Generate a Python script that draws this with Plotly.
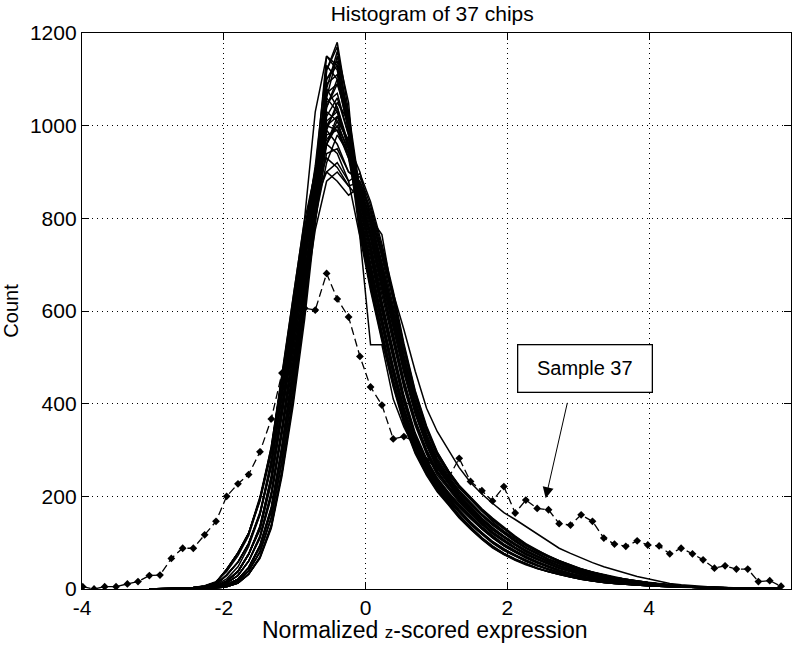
import plotly.graph_objects as go

# Histogram bin centres shared by all chips (normalized z-score)
bin_centers = [-3.99, -3.83, -3.68, -3.52, -3.36, -3.21, -3.05, -2.90, -2.74, -2.58,
               -2.43, -2.27, -2.11, -1.96, -1.80, -1.65, -1.49, -1.33, -1.18, -1.02,
               -0.86, -0.71, -0.55, -0.40, -0.24, -0.08, 0.07, 0.23, 0.39, 0.54,
               0.70, 0.86, 1.01, 1.17, 1.32, 1.48, 1.64, 1.79, 1.95, 2.11,
               2.26, 2.42, 2.58, 2.73, 2.89, 3.04, 3.20, 3.36, 3.51, 3.67,
               3.83, 3.98, 4.14, 4.29, 4.45, 4.61, 4.76, 4.92, 5.07, 5.23,
               5.39, 5.54, 5.70, 5.86]

# Chips 1-36 are counted from bin 6 (z = -3.05) onwards
chip_x = bin_centers[6:]

chip_01 = [0, 0, 0, 0, 1, 2, 4, 9, 21, 46, 92, 172, 302, 470, 650, 845, 1120, 1180, 1030, 815,
           730, 610, 505, 410, 330, 275, 235, 205, 180, 155, 132, 113, 95, 81, 69, 58, 48, 40, 33, 27,
           22, 18, 15, 13, 11, 9, 7, 6, 5, 4, 3, 3, 2, 2, 1, 1, 1, 0]
chip_02 = [0, 0, 0, 1, 1, 3, 6, 17, 38, 75, 132, 236, 382, 548, 716, 896, 1150, 1130, 990, 770,
           650, 540, 440, 360, 295, 248, 212, 183, 155, 130, 108, 90, 75, 63, 53, 44, 37, 31, 26, 21,
           17, 14, 12, 10, 8, 7, 6, 5, 4, 3, 3, 2, 2, 1, 1, 1, 0, 0]
chip_03 = [0, 1, 1, 2, 3, 6, 14, 42, 78, 120, 195, 300, 460, 620, 800, 1030, 1150, 1120, 1000, 792,
           690, 575, 472, 385, 312, 262, 224, 194, 168, 142, 120, 101, 85, 72, 61, 51, 42, 35, 29, 24,
           20, 16, 13, 11, 10, 8, 6, 5, 4, 3, 3, 2, 2, 1, 1, 1, 0, 0]
chip_04 = [0, 0, 0, 0, 0, 1, 2, 5, 13, 32, 68, 135, 250, 410, 600, 815, 1080, 1160, 1050, 778,
           657, 546, 445, 364, 298, 250, 214, 185, 157, 131, 109, 91, 76, 64, 54, 45, 37, 31, 26, 21,
           17, 14, 12, 10, 8, 7, 6, 5, 4, 3, 2, 2, 2, 1, 1, 1, 0, 0]
chip_05 = [0, 0, 0, 1, 1, 3, 6, 17, 38, 75, 136, 243, 393, 564, 737, 880, 1090, 1110, 1000, 832,
           755, 645, 540, 442, 358, 295, 250, 218, 190, 165, 141, 121, 104, 88, 75, 64, 54, 45, 38, 31,
           26, 21, 17, 14, 12, 10, 8, 6, 5, 4, 3, 3, 2, 2, 1, 1, 1, 0]
chip_06 = [0, 0, 0, 0, 1, 2, 4, 9, 21, 46, 95, 177, 310, 483, 668, 835, 1060, 1150, 1020, 850,
           780, 680, 575, 475, 385, 315, 265, 230, 200, 175, 150, 130, 112, 96, 82, 70, 59, 50, 42, 35,
           29, 24, 20, 17, 14, 12, 10, 8, 6, 5, 4, 3, 3, 2, 2, 1, 1, 1]
chip_07 = [0, 1, 1, 2, 3, 6, 14, 42, 78, 120, 195, 300, 460, 620, 780, 905, 1040, 1100, 990, 822,
           737, 616, 510, 414, 333, 278, 237, 207, 182, 157, 133, 114, 96, 82, 70, 59, 49, 40, 33, 27,
           22, 18, 15, 13, 11, 9, 7, 6, 5, 4, 3, 3, 2, 2, 1, 1, 1, 0]
chip_08 = [0, 0, 1, 1, 2, 4, 10, 30, 58, 98, 163, 268, 421, 584, 748, 883, 1050, 1070, 980, 865,
           800, 705, 602, 498, 402, 330, 278, 240, 210, 185, 160, 140, 121, 104, 89, 76, 64, 55, 46, 39,
           32, 27, 22, 19, 16, 13, 10, 8, 6, 5, 4, 3, 3, 2, 2, 1, 1, 1]
chip_09 = [0, 0, 0, 0, 1, 2, 4, 9, 21, 46, 92, 172, 302, 470, 650, 820, 1020, 1060, 980, 785,
           683, 569, 467, 381, 309, 259, 222, 192, 166, 141, 119, 100, 84, 71, 60, 50, 42, 35, 29, 24,
           20, 16, 13, 11, 9, 8, 6, 5, 4, 3, 3, 2, 2, 1, 1, 1, 0, 0]
chip_10 = [0, 1, 1, 2, 3, 6, 14, 42, 78, 120, 190, 292, 448, 604, 760, 900, 1000, 1040, 960, 858,
           788, 687, 581, 480, 389, 318, 268, 232, 202, 177, 152, 131, 113, 97, 83, 71, 60, 50, 42, 35,
           29, 24, 20, 17, 14, 12, 10, 8, 6, 5, 4, 3, 3, 2, 2, 1, 1, 1]
chip_11 = [0, 0, 0, 1, 1, 3, 6, 17, 38, 75, 128, 229, 371, 532, 695, 866, 1030, 1010, 940, 807,
           723, 604, 500, 406, 327, 272, 233, 203, 178, 153, 131, 112, 94, 80, 68, 57, 48, 40, 33, 27,
           22, 18, 15, 13, 11, 9, 7, 6, 5, 4, 3, 3, 2, 2, 1, 1, 1, 0]
chip_12 = [0, 0, 0, 0, 0, 1, 2, 5, 13, 32, 70, 139, 257, 422, 618, 790, 990, 1050, 1010, 845,
           766, 655, 548, 449, 363, 299, 254, 221, 193, 167, 143, 123, 106, 89, 76, 65, 55, 46, 39, 32,
           26, 21, 17, 14, 12, 10, 8, 6, 5, 4, 3, 3, 2, 2, 1, 1, 1, 0]
chip_13 = [0, 0, 1, 1, 2, 4, 10, 30, 58, 98, 166, 273, 429, 596, 763, 853, 990, 960, 900, 880,
           820, 730, 630, 520, 420, 345, 290, 250, 220, 195, 170, 150, 130, 112, 96, 82, 70, 60, 51, 43,
           36, 30, 25, 21, 17, 14, 11, 9, 7, 5, 4, 3, 3, 2, 2, 1, 1, 1]
chip_14 = [0, 0, 0, 0, 1, 2, 5, 13, 29, 60, 112, 204, 342, 509, 683, 843, 960, 1000, 950, 852,
           788, 694, 593, 491, 396, 325, 274, 236, 207, 182, 158, 138, 119, 102, 88, 75, 63, 54, 45, 38,
           32, 27, 22, 19, 16, 13, 10, 8, 6, 5, 4, 3, 3, 2, 2, 1, 1, 1]
chip_15 = [0, 0, 0, 1, 1, 3, 6, 17, 38, 75, 132, 236, 382, 548, 716, 856, 960, 1020, 960, 871,
           812, 723, 624, 515, 416, 342, 287, 248, 218, 193, 168, 148, 129, 111, 95, 81, 69, 59, 50, 42,
           36, 30, 25, 21, 17, 14, 11, 9, 7, 5, 4, 3, 3, 2, 2, 1, 1, 1]
chip_16 = [0, 0, 0, 0, 0, 1, 2, 5, 13, 32, 68, 135, 250, 410, 600, 820, 1120, 1170, 1000, 800,
           697, 581, 477, 389, 315, 265, 226, 196, 170, 143, 121, 102, 86, 73, 62, 52, 42, 35, 29, 24,
           20, 16, 13, 11, 10, 8, 6, 5, 4, 3, 3, 2, 2, 1, 1, 1, 0, 0]
chip_17 = [0, 0, 0, 0, 1, 2, 5, 13, 29, 60, 112, 204, 342, 509, 683, 813, 940, 950, 900, 889,
           828, 737, 636, 525, 425, 348, 293, 253, 222, 197, 172, 152, 131, 113, 97, 83, 71, 61, 52, 43,
           36, 30, 25, 21, 17, 14, 11, 9, 7, 5, 4, 3, 3, 2, 2, 1, 1, 1]
chip_18 = [0, 0, 0, 0, 1, 2, 4, 9, 21, 46, 89, 167, 293, 456, 631, 830, 1080, 1040, 950, 762,
           644, 535, 436, 356, 292, 245, 210, 181, 153, 129, 107, 89, 74, 62, 52, 44, 37, 31, 26, 21,
           17, 14, 12, 10, 8, 7, 6, 5, 4, 3, 3, 2, 2, 1, 1, 1, 0, 0]
chip_19 = [0, 1, 1, 2, 3, 6, 14, 42, 78, 120, 195, 300, 460, 620, 780, 870, 930, 910, 870, 878,
           812, 716, 611, 505, 408, 335, 282, 244, 213, 188, 162, 142, 123, 106, 90, 77, 65, 56, 47, 40,
           32, 27, 22, 19, 16, 13, 10, 8, 6, 5, 4, 3, 3, 2, 2, 1, 1, 1]
chip_20 = [0, 0, 0, 1, 1, 3, 6, 17, 38, 75, 134, 240, 388, 556, 726, 836, 900, 920, 880, 897,
           836, 745, 643, 530, 428, 352, 296, 255, 224, 199, 173, 153, 133, 114, 98, 84, 71, 61, 52, 44,
           37, 31, 26, 21, 17, 14, 11, 9, 7, 5, 4, 3, 3, 2, 2, 1, 1, 1]
chip_21 = [0, 0, 0, 0, 0, 1, 3, 7, 17, 39, 80, 154, 276, 440, 625, 775, 880, 900, 870, 842,
           772, 673, 569, 470, 381, 312, 262, 228, 198, 173, 148, 129, 111, 95, 81, 69, 58, 50, 42, 35,
           29, 24, 20, 17, 14, 12, 10, 8, 6, 5, 4, 3, 3, 2, 2, 1, 1, 1]
chip_22 = [0, 0, 0, 0, 1, 2, 5, 13, 29, 60, 115, 210, 352, 524, 703, 843, 1010, 1030, 960, 831,
           745, 622, 515, 418, 337, 281, 240, 209, 183, 158, 135, 115, 97, 83, 70, 59, 49, 41, 34, 28,
           22, 18, 15, 13, 11, 9, 7, 6, 5, 4, 3, 3, 2, 2, 1, 1, 1, 0]
chip_23 = [0, 0, 1, 1, 2, 4, 10, 30, 58, 98, 160, 263, 413, 572, 733, 900, 1060, 1030, 950, 785,
           663, 551, 449, 367, 301, 253, 216, 187, 158, 133, 110, 92, 77, 64, 54, 45, 38, 32, 27, 21,
           17, 14, 12, 10, 8, 7, 6, 5, 4, 3, 3, 2, 2, 1, 1, 1, 0, 0]
chip_24 = [0, 0, 0, 0, 0, 1, 2, 5, 13, 32, 66, 131, 243, 398, 582, 790, 960, 1010, 970, 867,
           796, 694, 587, 485, 393, 321, 270, 235, 204, 179, 153, 133, 114, 98, 84, 71, 60, 51, 43, 36,
           30, 24, 20, 17, 14, 12, 10, 8, 6, 5, 4, 3, 3, 2, 2, 1, 1, 1]
chip_25 = [0, 0, 0, 1, 1, 3, 6, 17, 38, 75, 130, 232, 376, 540, 706, 896, 1100, 1140, 1010, 820,
           744, 635, 532, 435, 353, 291, 246, 215, 187, 163, 139, 119, 102, 87, 74, 63, 53, 44, 37, 31,
           26, 21, 17, 14, 12, 10, 8, 6, 5, 4, 3, 3, 2, 2, 1, 1, 1, 0]
chip_26 = [0, 0, 0, 0, 0, 1, 3, 7, 17, 39, 80, 154, 276, 440, 625, 805, 1000, 990, 930, 799,
           715, 598, 495, 402, 323, 270, 230, 201, 176, 152, 129, 111, 93, 79, 68, 57, 47, 39, 32, 26,
           22, 18, 15, 13, 11, 9, 7, 6, 5, 4, 3, 3, 2, 2, 1, 1, 1, 0]
chip_27 = [0, 0, 1, 1, 2, 4, 10, 30, 58, 98, 163, 268, 421, 584, 760, 913, 1130, 1100, 990, 808,
           704, 587, 481, 393, 318, 267, 228, 198, 171, 145, 122, 103, 87, 73, 62, 52, 43, 36, 30, 24,
           20, 16, 13, 11, 10, 8, 6, 5, 4, 3, 3, 2, 2, 1, 1, 1, 0, 0]
chip_28 = [0, 1, 1, 2, 3, 6, 14, 42, 78, 120, 199, 306, 469, 632, 795, 900, 970, 1000, 930, 840,
           763, 651, 545, 446, 362, 298, 253, 220, 192, 167, 142, 122, 105, 89, 76, 65, 55, 45, 38, 31,
           26, 21, 17, 14, 12, 10, 8, 6, 5, 4, 3, 3, 2, 2, 1, 1, 1, 0]
chip_29 = [0, 0, 0, 0, 1, 2, 4, 9, 21, 46, 92, 172, 302, 470, 650, 850, 1100, 1130, 990, 776,
           676, 564, 463, 377, 306, 257, 220, 190, 165, 139, 118, 99, 83, 71, 60, 50, 41, 34, 28, 24,
           20, 16, 13, 11, 10, 8, 6, 5, 4, 3, 3, 2, 2, 1, 1, 1, 0, 0]
chip_30 = [0, 0, 0, 0, 1, 2, 5, 13, 29, 60, 109, 198, 332, 494, 663, 843, 980, 990, 940, 833,
           764, 666, 564, 466, 377, 309, 260, 226, 196, 172, 147, 127, 110, 94, 80, 69, 58, 49, 41, 34,
           28, 23, 19, 16, 13, 11, 9, 7, 6, 5, 4, 3, 3, 2, 2, 1, 1, 1]
chip_31 = [0, 0, 0, 1, 1, 3, 6, 16, 37, 74, 133, 244, 393, 562, 730, 878, 1000, 1020, 960, 900,
           800, 765, 625, 500, 415, 345, 295, 255, 222, 195, 168, 145, 125, 108, 93, 80, 68, 58, 49, 41,
           34, 28, 23, 19, 15, 12, 10, 8, 6, 5, 4, 3, 2, 2, 1, 1, 1, 0]
chip_32 = [0, 0, 1, 1, 2, 4, 9, 22, 48, 92, 160, 280, 430, 598, 758, 880, 960, 940, 880, 760,
           527, 527, 410, 350, 300, 260, 228, 200, 176, 152, 130, 110, 93, 79, 67, 56, 47, 39, 32, 26,
           21, 17, 14, 12, 10, 8, 7, 6, 5, 4, 3, 2, 2, 2, 1, 1, 1, 0]
chip_33 = [0, 1, 1, 2, 3, 7, 16, 38, 72, 115, 192, 308, 458, 616, 768, 860, 900, 880, 850, 868,
           800, 722, 640, 560, 470, 390, 340, 300, 262, 230, 205, 185, 165, 150, 135, 118, 102, 88, 77, 67,
           57, 48, 41, 34, 27, 22, 17, 12, 9, 7, 5, 4, 3, 2, 2, 1, 1, 1]
chip_34 = [0, 0, 0, 0, 0, 1, 3, 7, 17, 39, 80, 154, 276, 440, 625, 805, 1040, 1090, 1030, 861,
           796, 701, 599, 496, 400, 328, 277, 239, 209, 184, 159, 139, 120, 103, 88, 76, 64, 55, 46, 39,
           32, 27, 22, 19, 16, 13, 10, 8, 6, 5, 4, 3, 3, 2, 2, 1, 1, 1]
chip_35 = [0, 0, 0, 1, 1, 3, 6, 17, 38, 75, 132, 236, 382, 548, 716, 880, 1070, 1090, 1010, 793,
           670, 556, 453, 371, 304, 255, 218, 188, 160, 134, 111, 93, 77, 65, 55, 45, 38, 32, 27, 22,
           18, 14, 12, 10, 8, 7, 6, 5, 4, 3, 3, 2, 2, 1, 1, 1, 0, 0]
chip_36 = [0, 0, 0, 0, 1, 2, 4, 9, 21, 46, 94, 175, 307, 478, 660, 800, 920, 980, 940, 849,
           770, 658, 551, 451, 365, 301, 255, 222, 194, 168, 144, 123, 106, 90, 77, 65, 55, 46, 39, 32,
           27, 21, 17, 14, 12, 10, 8, 6, 5, 4, 3, 3, 2, 2, 1, 1, 1, 0]

# Chip 37 (the outlying sample), counted over every bin
sample_37 = [5, 0, 5, 5, 11, 16, 29, 30, 66, 88,
             88, 117, 146, 200, 227, 247, 296, 367, 466, 545,
             606, 602, 681, 626, 587, 502, 436, 397, 324, 329,
             318, 277, 262, 240, 282, 232, 212, 190, 221, 164,
             192, 174, 171, 141, 138, 160, 146, 110, 97, 92,
             104, 95, 93, 76, 88, 76, 63, 45, 50, 43,
             43, 16, 18, 6]

chips = [chip_01, chip_02, chip_03, chip_04, chip_05, chip_06, chip_07, chip_08, chip_09,
         chip_10, chip_11, chip_12, chip_13, chip_14, chip_15, chip_16, chip_17, chip_18,
         chip_19, chip_20, chip_21, chip_22, chip_23, chip_24, chip_25, chip_26, chip_27,
         chip_28, chip_29, chip_30, chip_31, chip_32, chip_33, chip_34, chip_35, chip_36]

x_ticks = [-4, -2, 0, 2, 4, 6]
x_tick_labels = ["-4", "-2", "0", "2", "4", "6"]
y_ticks = [0, 200, 400, 600, 800, 1000, 1200]
y_tick_labels = ["0", "200", "400", "600", "800", "1000", "1200"]

FONT = "Liberation Sans, Arial, Helvetica, sans-serif"

fig = go.Figure()

for counts in chips:
    fig.add_trace(go.Scatter(
        x=chip_x, y=counts, mode="lines",
        line=dict(color="black", width=1.5),
        showlegend=False, hoverinfo="skip",
    ))

fig.add_trace(go.Scatter(
    x=bin_centers, y=sample_37, mode="lines+markers",
    line=dict(color="black", width=1.3, dash="8px,4px"),
    marker=dict(symbol="diamond", size=6, color="black"),
    showlegend=False,
))

axis_common = dict(
    showline=True, linecolor="black", linewidth=1.3, mirror="ticks",
    ticks="inside", ticklen=7, tickcolor="black", tickwidth=1.2,
    showgrid=True, gridcolor="black", gridwidth=1, griddash="1.3px,3.7px",
    zeroline=False,
    tickfont=dict(family=FONT, size=21, color="black"),
)

fig.update_xaxes(range=[-4, 6], tickvals=x_ticks, ticktext=x_tick_labels, **axis_common)
fig.update_yaxes(range=[0, 1200], tickvals=y_ticks, ticktext=y_tick_labels,
                 title=dict(text="Count", font=dict(family=FONT, size=20, color="black"), standoff=10),
                 **axis_common)

# x-axis label, placed as text below the plot area
fig.add_annotation(
    x=0.484, y=-0.074, xref="paper", yref="paper", xanchor="center", yanchor="middle",
    text="Normalized <span style='font-size:17px'>z</span>-scored expression", showarrow=False,
    font=dict(family=FONT, size=23, color="black"),
)

# Label box with an arrow pointing at the outlying sample
fig.add_annotation(
    x=3.1, y=476, xref="x", yref="y", text="Sample 37", showarrow=False,
    font=dict(family=FONT, size=20, color="black"),
    bgcolor="white", bordercolor="black", borderwidth=1.3, borderpad=0,
    width=133, height=46,
)
fig.add_annotation(
    x=2.54, y=196, ax=2.85, ay=405, xref="x", yref="y", axref="x", ayref="y",
    text="", showarrow=True, arrowhead=2, arrowsize=2.2, arrowwidth=1.0, arrowcolor="black",
)

fig.update_layout(
    width=795, height=646,
    margin=dict(l=82, r=4, t=33, b=57),
    paper_bgcolor="white", plot_bgcolor="white",
    title=dict(text="Histogram of 37 chips", xref="paper", x=0.494, xanchor="center",
               y=0.99, yanchor="top",
               font=dict(family=FONT, size=21, color="black")),
    font=dict(family=FONT, color="black"),
)

fig.write_html("out.html")
